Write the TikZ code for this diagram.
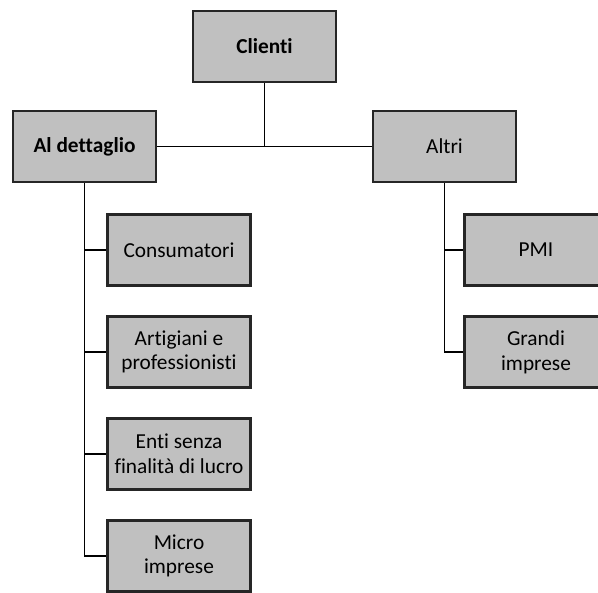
\documentclass[tikz,border=0pt]{standalone}
\usepackage{fontspec}
\setmainfont{Carlito}[Ligatures=NoCommon]
\usetikzlibrary{positioning}
\definecolor{boxgray}{RGB}{192,192,192}
\definecolor{boxline}{RGB}{38,38,38}
\tikzset{>=latex}

\begin{document}
\begin{tikzpicture}[x=0.75pt,y=-0.75pt,
    box/.style={draw=boxline,line width=1.8pt,fill=boxgray,minimum width=107pt,
      minimum height=53pt,inner sep=2pt,align=center,
      font=\fontsize{16}{18.5}\selectfont},
    headbox/.style={box,font=\fontsize{16}{18.5}\selectfont\bfseries},
    link/.style={line width=1.2pt}]
    \useasboundingbox (0,0) rectangle (598,592);
    \node [headbox] (cli) at (264.5,46.5) {Clienti};
    \node [headbox] (det) at (84.5,146.5) {Al dettaglio};
    \node [box] (alt) at (444.5,146.5) {Altri};
    \node [box] (con) at (179,250) {Consumatori};
    \node [box] (art) at (179,352) {Artigiani e\\professionisti};
    \node [box] (ent) at (179,454) {Enti senza\\finalità di lucro};
    \node [box] (mic) at (179,556) {Micro\\imprese};
    \node [box] (pmi) at (536,250) {PMI};
    \node [box] (gra) at (536,352) {Grandi\\imprese};
    \draw [link] (det.east) -- (alt.west);
    \draw [link] (cli.south) -- (cli.south |- det.east);
    \draw [link] (det.south) |- (mic.west);
    \draw [link] (det.south |- con.west) -- (con.west);
    \draw [link] (det.south |- art.west) -- (art.west);
    \draw [link] (det.south |- ent.west) -- (ent.west);
    \draw [link] (alt.south) |- (gra.west);
    \draw [link] (alt.south |- pmi.west) -- (pmi.west);
  \end{tikzpicture}
\end{document}
